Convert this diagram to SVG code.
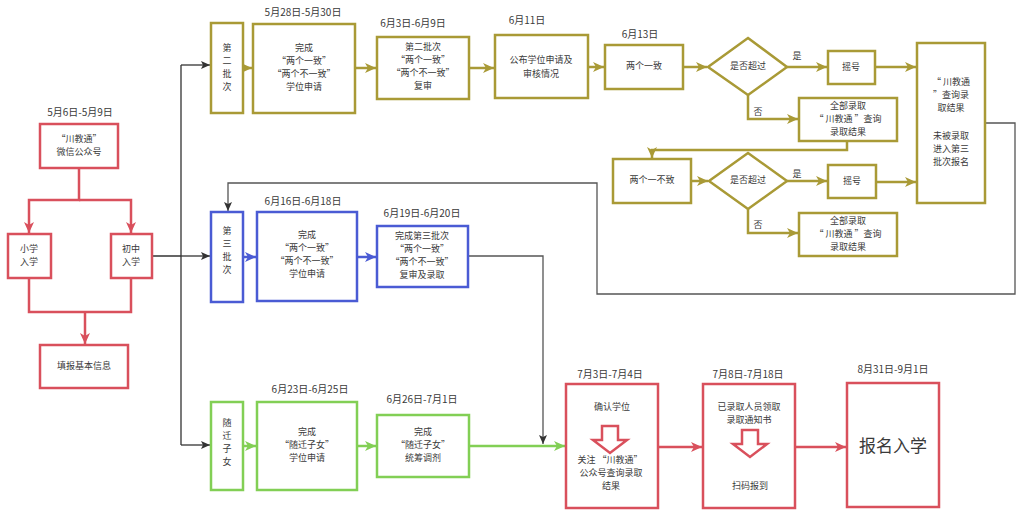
<svg xmlns="http://www.w3.org/2000/svg" width="1021" height="520" viewBox="0 0 1021 520">
<defs>
<style>
text{font-family:"Noto Sans CJK SC","Liberation Sans",sans-serif;font-size:9px;fill:#3a3a3a;text-anchor:middle;dominant-baseline:middle}
text.d{font-size:10px}
.o{fill:#fff;stroke:#a99a36;stroke-width:2.5}
.b{fill:#fff;stroke:#4a5bd4;stroke-width:2.5}
.g{fill:#fff;stroke:#82cf55;stroke-width:2.5}
.r{fill:#fff;stroke:#d9505c;stroke-width:2.5}
.lo{fill:none;stroke:#a99a36;stroke-width:2.5}
.lb{fill:none;stroke:#4a5bd4;stroke-width:2.5}
.lg{fill:none;stroke:#82cf55;stroke-width:2.5}
.lr{fill:none;stroke:#d9505c;stroke-width:2.5}
.lk{fill:none;stroke:#333;stroke-width:1.3}
.lgr{fill:none;stroke:#555;stroke-width:1.3}
</style>
<marker id="ao" markerUnits="userSpaceOnUse" markerWidth="12" markerHeight="10" refX="11" refY="5" orient="auto"><path d="M0,0 L11,5 L0,10 L3,5 Z" fill="#a99a36"/></marker>
<marker id="ab" markerUnits="userSpaceOnUse" markerWidth="12" markerHeight="10" refX="11" refY="5" orient="auto"><path d="M0,0 L11,5 L0,10 L3,5 Z" fill="#4a5bd4"/></marker>
<marker id="ag" markerUnits="userSpaceOnUse" markerWidth="12" markerHeight="10" refX="11" refY="5" orient="auto"><path d="M0,0 L11,5 L0,10 L3,5 Z" fill="#82cf55"/></marker>
<marker id="ar" markerUnits="userSpaceOnUse" markerWidth="12" markerHeight="10" refX="11" refY="5" orient="auto"><path d="M0,0 L11,5 L0,10 L3,5 Z" fill="#d9505c"/></marker>
<marker id="ak" markerUnits="userSpaceOnUse" markerWidth="10" markerHeight="8" refX="9" refY="4" orient="auto"><path d="M0,0 L9,4 L0,8 L2,4 Z" fill="#333"/></marker>
</defs>
<rect width="1021" height="520" fill="#fff"/>

<g id="connectors">
<path class="lr" d="M79,168 V200 H29 V233" marker-end="url(#ar)"/>
<path class="lr" d="M79,200 H131 V233" marker-end="url(#ar)"/>
<path class="lr" d="M29,278 V312 H131 V278"/>
<path class="lr" d="M85,312 V344" marker-end="url(#ar)"/>
<path class="lk" d="M152,256 H181 M181,65 V445"/>
<path class="lk" d="M181,65 H210" marker-end="url(#ak)"/>
<path class="lk" d="M181,256 H210" marker-end="url(#ak)"/>
<path class="lk" d="M181,445 H210" marker-end="url(#ak)"/>
<path class="lo" d="M243,68 H252" marker-end="url(#ao)"/>
<path class="lo" d="M355,68 H376" marker-end="url(#ao)"/>
<path class="lo" d="M469,68 H494" marker-end="url(#ao)"/>
<path class="lo" d="M588,67 H604" marker-end="url(#ao)"/>
<path class="lo" d="M683,67 H707" marker-end="url(#ao)"/>
<path class="lo" d="M787,67 H827" marker-end="url(#ao)"/>
<path class="lo" d="M875,67 H916" marker-end="url(#ao)"/>
<path class="lo" d="M748,95 V119 H798" marker-end="url(#ao)"/>
<path class="lo" d="M847,141 V150 H652 V158" marker-end="url(#ao)"/>
<path class="lo" d="M691,181 H708" marker-end="url(#ao)"/>
<path class="lo" d="M787,181 H827" marker-end="url(#ao)"/>
<path class="lo" d="M876,182 H916" marker-end="url(#ao)"/>
<path class="lo" d="M748,209 V233 H798" marker-end="url(#ao)"/>
<path class="lgr" d="M985,123 H1015 V294 H597 V183 H228 V211" marker-end="url(#ak)"/>
<path class="lb" d="M243,257 H256" marker-end="url(#ab)"/>
<path class="lb" d="M357,257 H376" marker-end="url(#ab)"/>
<path class="lgr" d="M468,256 H543 V444" marker-end="url(#ak)"/>
<path class="lg" d="M243,446 H256" marker-end="url(#ag)"/>
<path class="lg" d="M357,446 H376" marker-end="url(#ag)"/>
<path class="lg" d="M469,446 H565" marker-end="url(#ag)"/>
<path class="lr" d="M658,447 H702" marker-end="url(#ar)"/>
<path class="lr" d="M795,447 H846" marker-end="url(#ar)"/>
</g>

<g id="n-wechat"><text class="d" x="80" y="113">5月6日-5月9日</text><rect class="r" x="40" y="124" width="78" height="44"/><text x="79" y="140">“川教通”</text><text x="79" y="153">微信公众号</text></g>
<g id="n-primary"><rect class="r" x="8" y="234" width="43" height="44"/><text x="29" y="250">小学</text><text x="29" y="263">入学</text></g>
<g id="n-middle"><rect class="r" x="111" y="234" width="41" height="44"/><text x="131" y="250">初中</text><text x="131" y="263">入学</text></g>
<g id="n-fill"><rect class="r" x="40" y="345" width="88" height="43"/><text x="84" y="367">填报基本信息</text></g>

<g id="n-b2"><rect class="o" x="211" y="23" width="32" height="90"/><text x="227" y="49">第</text><text x="227" y="62">二</text><text x="227" y="75">批</text><text x="227" y="88">次</text></g>
<g id="n-b2-apply"><text class="d" x="303" y="13">5月28日-5月30日</text><rect class="o" x="253" y="24" width="102" height="89"/><text x="304" y="49">完成</text><text x="304" y="62">“两个一致”</text><text x="304" y="75">“两个不一致”</text><text x="304" y="88">学位申请</text></g>
<g id="n-b2-review"><text class="d" x="413" y="24">6月3日-6月9日</text><rect class="o" x="377" y="37" width="92" height="62"/><text x="423" y="48">第二批次</text><text x="423" y="61">“两个一致”</text><text x="423" y="74">“两个不一致”</text><text x="423" y="87">复审</text></g>
<g id="n-publish"><text class="d" x="527" y="21">6月11日</text><rect class="o" x="495" y="35" width="93" height="63"/><text x="541" y="61">公布学位申请及</text><text x="541" y="75">审核情况</text></g>
<g id="n-consistent"><text class="d" x="640" y="35">6月13日</text><rect class="o" x="605" y="45" width="78" height="44"/><text x="644" y="67">两个一致</text></g>
<g id="n-d1"><polygon class="o" points="748,38 787,67 748,95 708,67"/><text x="748" y="67">是否超过</text><text x="797" y="57">是</text><text x="758" y="113">否</text></g>
<g id="n-lot1"><rect class="o" x="828" y="51" width="47" height="33"/><text x="851" y="68">摇号</text></g>
<g id="n-all1"><rect class="o" x="799" y="98" width="98" height="43"/><text x="848" y="107">全部录取</text><text x="848" y="120">“ 川教通 ”查询</text><text x="848" y="133">录取结果</text></g>
<g id="n-result"><rect class="o" x="917" y="43" width="68" height="160"/><text x="951" y="83">“ 川教通</text><text x="951" y="96">”查询录</text><text x="951" y="109">取结果</text><text x="951" y="137">未被录取</text><text x="951" y="150">进入第三</text><text x="951" y="163">批次报名</text></g>
<g id="n-inconsistent"><rect class="o" x="613" y="159" width="78" height="44"/><text x="652" y="181">两个一不致</text></g>
<g id="n-d2"><polygon class="o" points="748,153 787,181 748,209 709,181"/><text x="748" y="181">是否超过</text><text x="797" y="175">是</text><text x="758" y="226">否</text></g>
<g id="n-lot2"><rect class="o" x="828" y="165" width="48" height="33"/><text x="852" y="182">摇号</text></g>
<g id="n-all2"><rect class="o" x="799" y="213" width="98" height="43"/><text x="848" y="222">全部录取</text><text x="848" y="235">“ 川教通 ”查询</text><text x="848" y="248">录取结果</text></g>

<g id="n-b3"><rect class="b" x="211" y="212" width="32" height="90"/><text x="227" y="232">第</text><text x="227" y="245">三</text><text x="227" y="258">批</text><text x="227" y="271">次</text></g>
<g id="n-b3-apply"><text class="d" x="303" y="202">6月16日-6月18日</text><rect class="b" x="257" y="212" width="100" height="89"/><text x="307" y="236">完成</text><text x="307" y="249">“两个一致”</text><text x="307" y="262">“两个不一致”</text><text x="307" y="275">学位申请</text></g>
<g id="n-b3-review"><text class="d" x="422" y="214">6月19日-6月20日</text><rect class="b" x="377" y="226" width="91" height="61"/><text x="422" y="237">完成第三批次</text><text x="422" y="250">“两个一致”</text><text x="422" y="263">“两个不一致”</text><text x="422" y="276">复审及录取</text></g>

<g id="n-mig"><rect class="g" x="211" y="402" width="32" height="88"/><text x="227" y="424">随</text><text x="227" y="437">迁</text><text x="227" y="450">子</text><text x="227" y="463">女</text></g>
<g id="n-mig-apply"><text class="d" x="310" y="390">6月23日-6月25日</text><rect class="g" x="257" y="402" width="100" height="88"/><text x="307" y="433">完成</text><text x="307" y="446">“随迁子女”</text><text x="307" y="459">学位申请</text></g>
<g id="n-mig-adjust"><text class="d" x="422" y="400">6月26日-7月1日</text><rect class="g" x="377" y="415" width="92" height="62"/><text x="423" y="433">完成</text><text x="423" y="446">“随迁子女”</text><text x="423" y="459">统筹调剂</text></g>

<g id="n-confirm"><text class="d" x="610" y="375">7月3日-7月4日</text><rect class="r" x="566" y="384" width="92" height="124"/><text x="612" y="408">确认学位</text><path class="r" d="M602,426 H618 V440 H627 L610,453 L593,440 H602 Z"/><text x="610" y="461">关注 “川教通”</text><text x="611" y="474">公众号查询录取</text><text x="611" y="487">结果</text></g>
<g id="n-notice"><text class="d" x="748" y="375">7月8日-7月18日</text><rect class="r" x="703" y="384" width="92" height="124"/><text x="749" y="408">已录取人员领取</text><text x="749" y="421">录取通知书</text><path class="r" d="M742,430 H758 V444 H767 L750,457 L733,444 H742 Z"/><text x="750" y="487">扫码报到</text></g>
<g id="n-enroll"><text class="d" x="893" y="370">8月31日-9月1日</text><rect class="r" x="847" y="383" width="92" height="124"/><text x="893" y="447" style="font-size:17px">报名入学</text></g>
</svg>
